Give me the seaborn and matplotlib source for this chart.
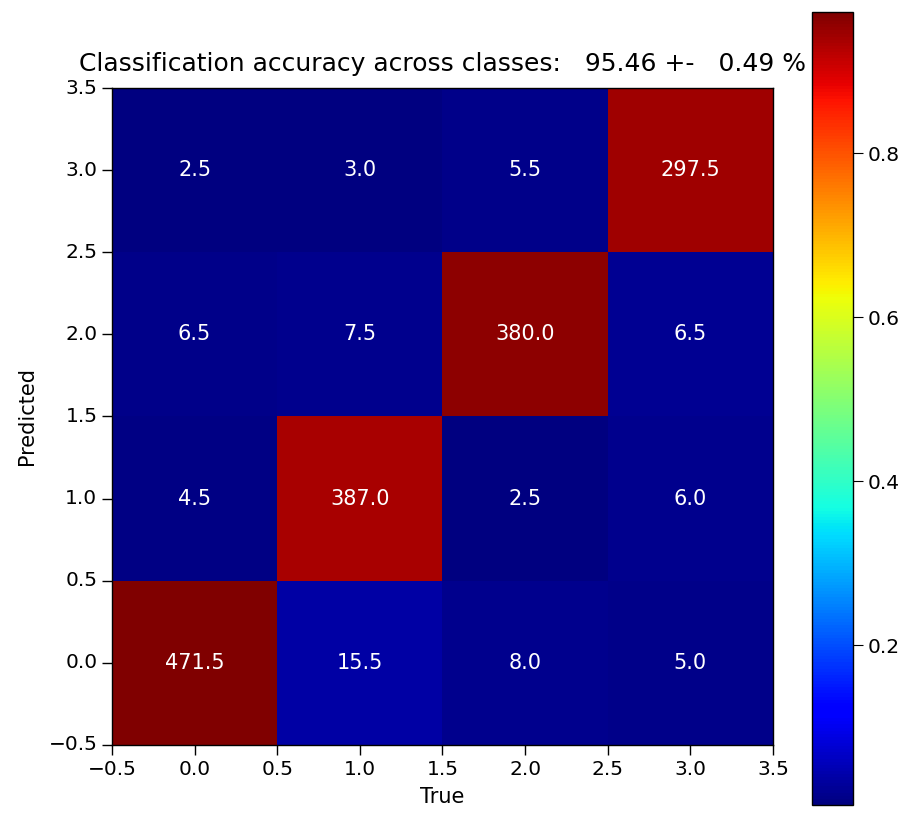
import numpy as np
import pandas as pd
import matplotlib
matplotlib.use('Agg')
import matplotlib.pyplot as plt
import seaborn as sns

# Confusion matrix (rows = predicted class, columns = true class), mean counts
classes = [0, 1, 2, 3]
pred_0 = [471.5, 15.5, 8.0, 5.0]
pred_1 = [4.5, 387.0, 2.5, 6.0]
pred_2 = [6.5, 7.5, 380.0, 6.5]
pred_3 = [2.5, 3.0, 5.5, 297.5]
acc_mean = 95.46
acc_std = 0.49

cm = pd.DataFrame([pred_0, pred_1, pred_2, pred_3], index=classes, columns=classes)
# colour by fraction of each true class
cm_norm = cm / cm.sum(axis=0)

fig = plt.figure(figsize=(9.06, 8.21), dpi=100)
ax = fig.add_axes([0.1236, 0.0926, 0.7296, 0.8002])
cax = fig.add_axes([0.896, 0.0195, 0.0453, 0.966])

sns.heatmap(cm_norm, annot=cm, fmt='.1f', cmap='jet', ax=ax, cbar_ax=cax,
            annot_kws={'color': 'white', 'fontsize': 15}, square=False)
ax.invert_yaxis()

# continuous-looking ticks like imshow with extent -0.5..3.5
pos = np.arange(0, 4.01, 0.5)
labels = [f"{p - 0.5:.1f}".replace('-', '\u2212') for p in pos]
ax.set_xticks(pos)
ax.set_xticklabels(labels, rotation=0)
ax.set_yticks(pos)
ax.set_yticklabels(labels, rotation=0)
ax.tick_params(axis='both', labelsize=14.5, length=7, width=1)
for s in ax.spines.values():
    s.set_visible(True)
    s.set_color('black')
    s.set_linewidth(1)

ax.set_xlabel('True', fontsize=15, labelpad=6)
ax.set_ylabel('Predicted', fontsize=15, labelpad=8)
ax.set_title(f'Classification accuracy across classes:   {acc_mean:.2f} +-   {acc_std:.2f} %',
             fontsize=18, pad=12)

cb = ax.collections[0].colorbar
cb.outline.set_linewidth(1)
cb.outline.set_edgecolor('black')
cb.set_ticks([0.2, 0.4, 0.6, 0.8])
cax.tick_params(labelsize=14.5, length=7)

fig.savefig('out.png', dpi=100)
